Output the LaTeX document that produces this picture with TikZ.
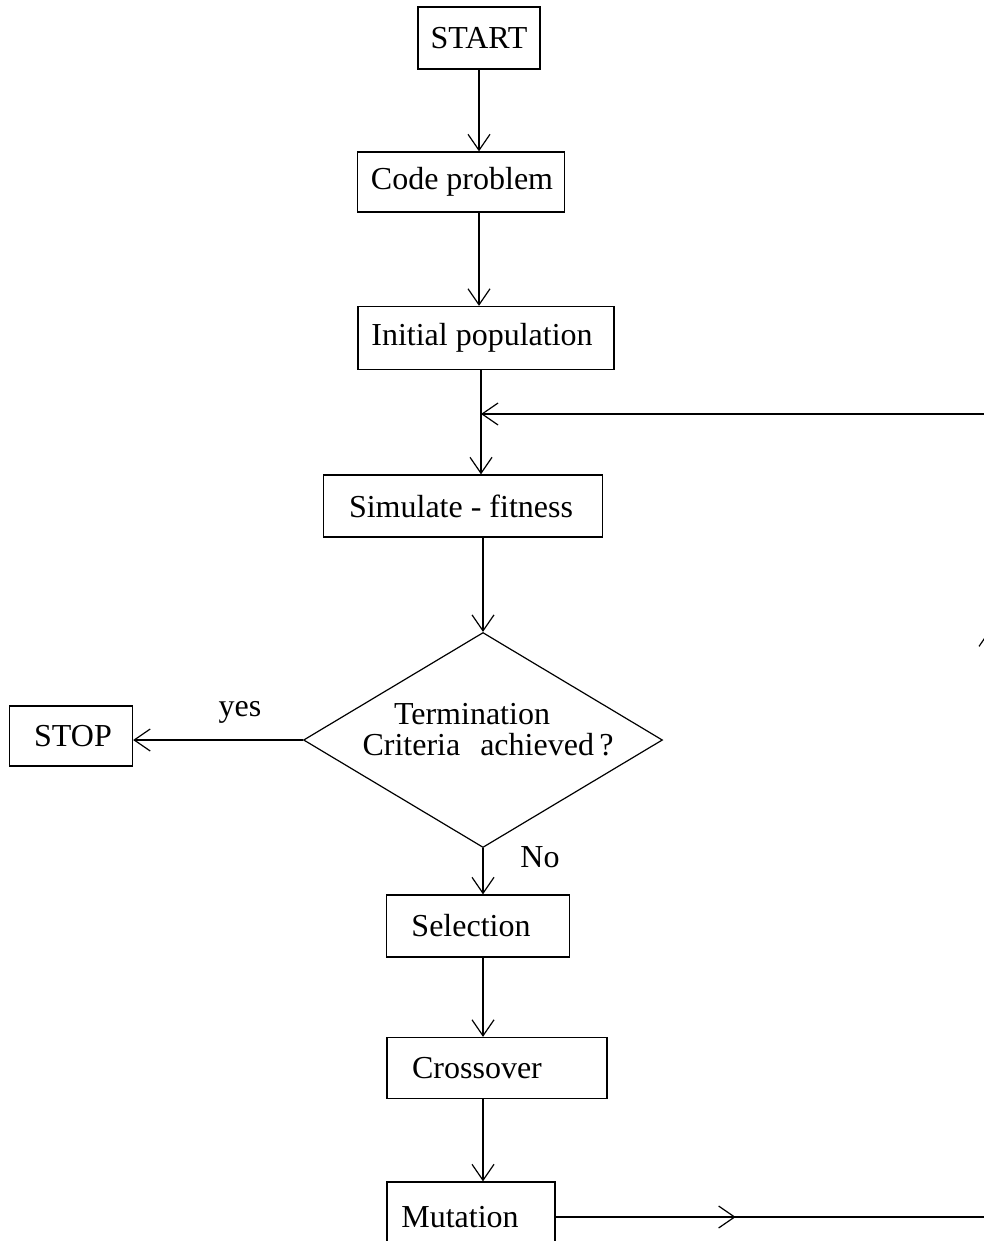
\documentclass[tikz,border=0pt]{standalone}
\usepackage{fontspec}
\setmainfont{Liberation Serif}
\usetikzlibrary{arrows.meta,shapes.geometric,decorations.markings}
\tikzset{
  >={Straight Barb[length=16pt,width=22pt,line width=1.2pt]},
  box/.style={draw, line width=1.3pt, inner sep=0pt},
  txt/.style={inner sep=0pt, font=\fontsize{32}{34}\selectfont},
  arr/.style={line width=1.2pt, ->},
  ln/.style={line width=1.2pt}
}
\begin{document}
\begin{tikzpicture}[x=1pt,y=-1pt]
\useasboundingbox[fill=white] (0,0) rectangle (984,1241);
% boxes
\node[box, minimum width=122pt, minimum height=62pt] (start) at (479,38) {};
\node[txt] (tstart) at (479,38) {START};
\node[box, minimum width=207pt, minimum height=60pt] (code) at (461,182) {};
\node[txt] (tcode) at (462,182) {Code problem};
\node[box, minimum width=256pt, minimum height=63pt] (init) at (486,338) {};
\node[txt] (tinit) at (482,338) {Initial population};
\node[box, minimum width=279pt, minimum height=62pt] (sim) at (463,506) {};
\node[txt] (tsim) at (461,506) {Simulate - fitness};
\node[draw, diamond, line width=1.2pt, minimum width=359pt, minimum height=215pt, inner sep=0pt] (dec) at (483,740) {};
\node[txt] (t1) at (472,714) {Termination};
\node[txt] (t2) at (488,745) {Criteria\hspace{20pt}achieved\,?};
\node[box, minimum width=123pt, minimum height=60pt] (stop) at (71,736) {};
\node[txt] (tstop) at (73,736) {STOP};
\node[txt] (yes) at (240,712) {yes};
\node[txt] (no) at (540,857) {No};
\node[box, minimum width=183pt, minimum height=62pt] (sel) at (478,926) {};
\node[txt] (tsel) at (471,926) {Selection};
\node[box, minimum width=220pt, minimum height=61pt] (cross) at (497,1068) {};
\node[txt] (tcross) at (477,1068) {Crossover};
\node[box, minimum width=168pt, minimum height=70pt] (mut) at (471,1217) {};
\node[txt] (tmut) at (460,1217) {Mutation};
\coordinate (join) at (481,414);
\coordinate (br) at (990,1217);
\coordinate (tr) at (990,414);
% connectors
\draw[arr] (start.south) -- (start.south |- code.north);
\draw[arr] (start.south |- code.south) -- (start.south |- init.north);
\draw[arr] (join |- init.south) -- (join |- sim.north);
\draw[arr] (dec.north |- sim.south) -- (dec.north);
\draw[arr] (dec.west) -- (dec.west -| stop.east);
\draw[arr] (dec.south) -- (dec.south |- sel.north);
\draw[arr] (dec.south |- sel.south) -- (dec.south |- cross.north);
\draw[arr] (dec.south |- cross.south) -- (dec.south |- mut.north);
\draw[ln, postaction={decorate}, decoration={markings,
    mark=at position 180pt with {\arrow{>}},
    mark=at position 1022pt with {\arrow{>}}}]
  (mut.east) -- (br) -- (tr);
\draw[arr] (tr) -- (join);
\end{tikzpicture}
\end{document}
